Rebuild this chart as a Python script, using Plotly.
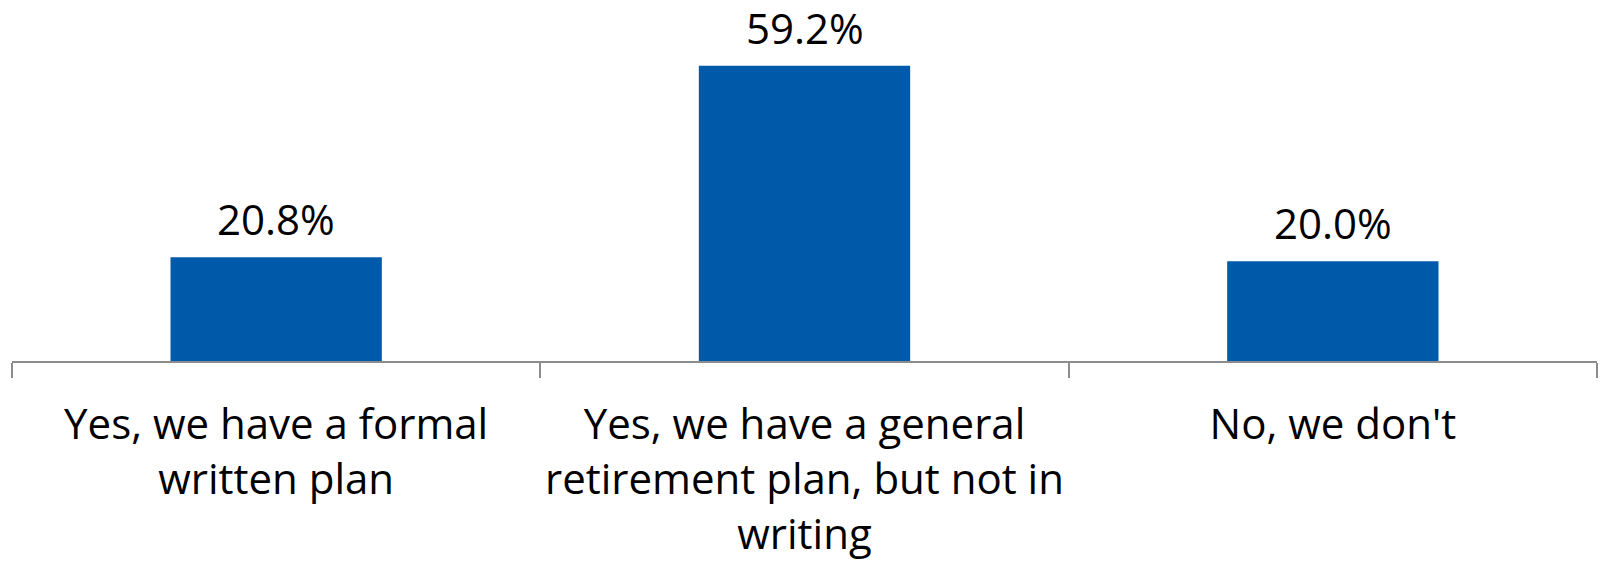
import plotly.graph_objects as go

categories = [
    "Yes, we have a formal<br>written plan",
    "Yes, we have a general<br>retirement plan, but not in<br>writing",
    "No, we don't",
]
values = [20.8, 59.2, 20.0]
value_labels = ["20.8%", "59.2%", "20.0%"]

bar_color = "#005AAA"
axis_color = "#8C8C8C"
font_family = "Open Sans"
font_size = 42

fig = go.Figure(
    go.Bar(
        x=categories,
        y=values,
        marker=dict(color=bar_color, line=dict(width=0)),
        width=0.4,
        cliponaxis=False,
        hoverinfo="skip",
    )
)

# value labels above each bar
for cat, val, lab in zip(categories, values, value_labels):
    fig.add_annotation(
        x=cat,
        y=val,
        text=lab,
        showarrow=False,
        yanchor="bottom",
        yshift=9,
        borderpad=0,
        font=dict(family=font_family, size=font_size, color="black"),
    )

fig.update_layout(
    width=1600,
    height=563,
    margin=dict(l=12, r=3, t=12, b=202),
    paper_bgcolor="white",
    plot_bgcolor="white",
    showlegend=False,
    font=dict(family=font_family, size=font_size, color="black"),
)

fig.update_xaxes(
    automargin=False,
    showline=True,
    linecolor=axis_color,
    linewidth=2,
    ticks="outside",
    tickson="boundaries",
    ticklen=15,
    tickwidth=2,
    tickcolor=axis_color,
    tickangle=0,
    ticklabelstandoff=26,
    tickfont=dict(family=font_family, size=font_size, color="black"),
    showgrid=False,
)
fig.update_yaxes(
    automargin=False,
    range=[0, 70],
    visible=False,
    showgrid=False,
)

fig.write_html("out.html")
